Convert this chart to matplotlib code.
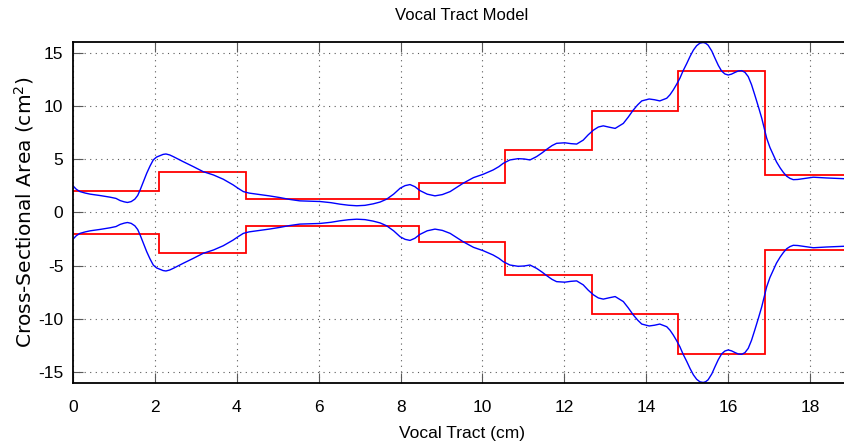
import matplotlib
matplotlib.use("Agg")
import matplotlib.pyplot as plt
import numpy as np

# Tube sections (cm) and their cross-sectional areas (cm^2)
section_edges = [0, 2.11, 4.22, 6.33, 8.45, 10.56, 12.67, 14.78, 16.9, 19.0]
section_areas = [2.0, 3.83, 1.28, 1.28, 2.75, 5.86, 9.5, 13.24, 3.55]

# Smoothed area function along the tract
tract_x = [0, 0.08, 0.17, 0.30, 0.42, 0.66, 0.90, 1.05, 1.15, 1.25, 1.33, 1.42,
           1.51, 1.58, 1.64, 1.72, 1.80, 1.88, 1.96, 2.04, 2.12, 2.20, 2.27,
           2.36, 2.45, 2.57, 2.69, 2.94, 3.18, 3.43, 3.67, 3.91, 4.04, 4.16,
           4.30, 4.49, 4.79, 5.05, 5.30, 5.54, 6.03, 6.30, 6.52, 6.73, 6.93,
           7.13, 7.33, 7.50, 7.66, 7.83, 7.99, 8.11, 8.23, 8.35, 8.47, 8.65,
           8.84, 9.02, 9.21, 9.37, 9.53, 9.78, 10.02, 10.26, 10.40, 10.51,
           10.67, 10.87, 11.02, 11.16, 11.32, 11.45, 11.57, 11.70, 11.81, 12.01,
           12.16, 12.30, 12.46, 12.58, 12.71, 12.83, 12.95, 13.10, 13.24, 13.44,
           13.56, 13.68, 13.79, 13.89, 14.07, 14.20, 14.33, 14.50, 14.58, 14.66,
           14.74, 14.82, 14.90, 14.99, 15.07, 15.15, 15.23, 15.31, 15.39, 15.45,
           15.51, 15.60, 15.68, 15.76, 15.84, 15.92, 16.0, 16.08, 16.17, 16.25,
           16.33, 16.41, 16.49, 16.57, 16.65, 16.74, 16.82, 16.88, 16.94, 17.02,
           17.10, 17.18, 17.27, 17.35, 17.43, 17.51, 17.59, 17.70, 17.84, 18.08,
           18.40, 18.73, 19.0]
tract_area = [2.5, 2.18, 1.96, 1.82, 1.72, 1.59, 1.44, 1.32, 1.12, 1.0, 0.94, 1.02,
              1.25, 1.60, 2.12, 2.90, 3.68, 4.35, 4.93, 5.20, 5.33, 5.45, 5.49,
              5.40, 5.24, 5.00, 4.77, 4.30, 3.83, 3.52, 3.12, 2.59, 2.25, 1.96,
              1.82, 1.72, 1.56, 1.40, 1.22, 1.09, 1.03, 0.92, 0.78, 0.68, 0.63,
              0.67, 0.81, 0.98, 1.25, 1.72, 2.28, 2.52, 2.62, 2.42, 2.06, 1.72,
              1.56, 1.68, 1.96, 2.35, 2.75, 3.27, 3.59, 3.99, 4.30, 4.62,
              4.93, 5.05, 5.02, 4.93, 5.24, 5.58, 5.93, 6.28, 6.49, 6.54,
              6.46, 6.42, 6.79, 7.28, 7.73, 8.02, 8.13, 8.00, 7.89, 8.36,
              8.95, 9.60, 10.10, 10.47, 10.65, 10.58, 10.47, 10.72, 11.05, 11.50,
              12.02, 12.59, 13.30, 13.99, 14.65, 15.23, 15.65, 15.89, 15.95, 15.88,
              15.70, 15.15, 14.46, 13.80, 13.27, 13.00, 12.90, 12.98, 13.15, 13.28,
              13.31, 13.15, 12.75, 12.00, 11.03, 9.90, 8.85, 7.90, 6.98, 6.10,
              5.42, 4.75, 4.18, 3.75, 3.40, 3.20, 3.08, 3.10, 3.18, 3.31,
              3.24, 3.18, 3.15]

x_ticks = [0, 2, 4, 6, 8, 10, 12, 14, 16, 18]
y_ticks = [-15, -10, -5, 0, 5, 10, 15]

plt.rcParams['font.family'] = ['Liberation Sans', 'DejaVu Sans']
plt.rcParams['axes.unicode_minus'] = False

fig = plt.figure(figsize=(8.44, 4.47), dpi=100)
ax = fig.add_axes([0.0865, 0.1432, 0.9218, 0.7629])

areas = np.array(section_areas)
smooth = np.array(tract_area)

# Upper and lower walls (mirror image)
ax.stairs(areas, section_edges, baseline=None, color='red', linewidth=1.3)
ax.stairs(-areas, section_edges, baseline=None, color='red', linewidth=1.3)
ax.plot(tract_x, smooth, color='blue', linewidth=1.0, solid_joinstyle='round')
ax.plot(tract_x, -smooth, color='blue', linewidth=1.0, solid_joinstyle='round')

ax.set_xlim(0, 19)
ax.set_ylim(-16, 16)
ax.set_xticks(x_ticks)
ax.set_yticks(y_ticks)

ax.grid(True, color='0.35', linestyle=(0, (1, 4)), linewidth=0.8)
ax.tick_params(direction='in', length=7, width=0.8, color='0.35',
               top=True, right=True, labelsize=12.5)
ax.tick_params(axis='x', pad=12)
ax.tick_params(axis='y', pad=7)
for sp in ax.spines.values():
    sp.set_linewidth(1.3)

ax.set_title('Vocal Tract Model', fontsize=12, pad=16)
ax.set_xlabel('Vocal Tract (cm)', fontsize=12.5, labelpad=8)
ax.set_ylabel('Cross-Sectional Area (cm$^2$)', fontsize=14.5,
              family=['DejaVu Sans'])
ax.yaxis.set_label_coords(-0.047, 0.5)

fig.savefig('out.png', dpi=100, facecolor='white')
